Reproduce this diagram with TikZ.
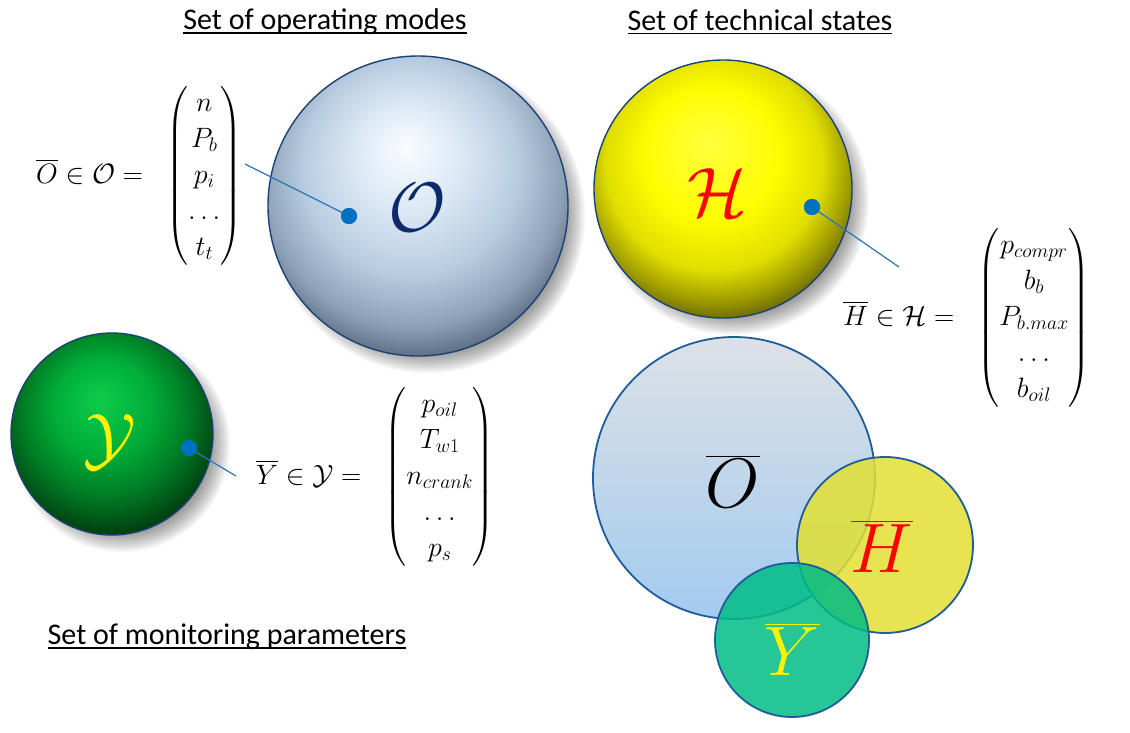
\RequirePackage{fix-cm}
\documentclass[tikz,border=0pt]{standalone}
\usepackage{amsmath}
\usepackage{fontspec}
\newfontfamily\calib{Carlito}
\usetikzlibrary{calc}
\definecolor{dotblue}{HTML}{0070C0}
\definecolor{leadblue}{HTML}{2E75B6}
\definecolor{rimblue}{HTML}{1B4272}
\definecolor{vennrim}{HTML}{1F5C99}
\definecolor{navyO}{HTML}{0D2B6B}
\definecolor{venntop}{HTML}{DDE1E6}
\definecolor{vennbot}{HTML}{A3CBEF}
\definecolor{vennyel}{HTML}{E2E032}
\definecolor{venngrn}{HTML}{00BD85}
\pgfdeclareradialshading{sphO}{\pgfqpoint{-2bp}{10bp}}{rgb(0bp)=(0.98,0.99,1); rgb(9bp)=(0.86,0.91,0.96); rgb(18bp)=(0.72,0.80,0.88); rgb(25bp)=(0.55,0.63,0.72); rgb(31bp)=(0.30,0.36,0.44); rgb(36bp)=(0.12,0.15,0.2); rgb(50bp)=(0,0,0)}
\pgfdeclareradialshading{sphH}{\pgfqpoint{-3bp}{9bp}}{rgb(0bp)=(1,1,0.25); rgb(13bp)=(1,0.99,0); rgb(21bp)=(0.88,0.87,0); rgb(26bp)=(0.62,0.61,0); rgb(31bp)=(0.3,0.3,0); rgb(36bp)=(0.08,0.08,0); rgb(50bp)=(0,0,0)}
\pgfdeclareradialshading{sphY}{\pgfqpoint{-3bp}{9bp}}{rgb(0bp)=(0.05,0.8,0.3); rgb(12bp)=(0,0.68,0.22); rgb(20bp)=(0,0.5,0.15); rgb(26bp)=(0,0.33,0.09); rgb(31bp)=(0,0.16,0.04); rgb(36bp)=(0,0.05,0.01); rgb(50bp)=(0,0,0)}
\newcommand\ulbox[1]{\setbox0\hbox{#1}\rlap{\rule[-0.13em]{\wd0}{0.055em}}\box0}
\newcommand\softshadow[3]{\foreach \k in {0,...,11}{\fill[black,opacity=0.04] ($(#1)+(#3)$) circle[radius={(#2+7-1.8*\k)*1pt}];}}
\begin{document}
\begin{tikzpicture}[x=1pt,y=-1pt,
  head/.style={font=\calib\fontsize{30}{36}\selectfont, inner sep=0pt},
  frm/.style={font=\fontsize{28}{36}\selectfont, inner sep=0pt, anchor=west},
  big/.style={font=\fontsize{70}{80}\selectfont, inner sep=0pt},
  dot/.style={circle, fill=dotblue, inner sep=0pt, minimum size=16pt},
  lead/.style={draw=leadblue, line width=1.2pt},
  rim/.style={draw=rimblue, line width=1.4pt},
  vrim/.style={draw=vennrim, line width=1.8pt},
]
\useasboundingbox (0,0) rectangle (1130,732);
\fill[white] (0,0) rectangle (1130,732);

% headings
\node[head] (h1) at (325,22) {\ulbox{Set of operating modes}};
\node[head] (h2) at (760,22) {\ulbox{Set of technical states}};
\node[head] (h3) at (227,637) {\ulbox{Set of monitoring parameters}};

% sphere centres
\coordinate (cO) at (418,206);
\coordinate (cH) at (723,189);
\coordinate (cY) at (112,434);

% shadows
\softshadow{cO}{150}{10,10}
\softshadow{cH}{129}{10,10}
\softshadow{cY}{101}{10,10}

% spheres
\shade[shading=sphO] (cO) circle[radius=150pt];
\draw[rim] (cO) circle[radius=150pt];
\shade[shading=sphH] (cH) circle[radius=129pt];
\draw[rim] (cH) circle[radius=129pt];
\shade[shading=sphY] (cY) circle[radius=101pt];
\draw[rim] (cY) circle[radius=101pt];

\node[big, text=navyO] (lO) at (417,208) {$\mathcal{O}$};
\node[big, text=red] (lH) at (717,193) {$\mathcal{H}$};
\node[big, text=yellow] (lY) at (110,442) {$\mathcal{Y}$};

% formulas
\node[frm] (fO) at (36,176) {$\overline{O}\in\mathcal{O}=\;\;\begin{pmatrix} n\\ P_b\\ p_i\\ \ldots\\ t_t\end{pmatrix}$};
\node[frm] (fH) at (843,318) {$\overline{H}\in\mathcal{H}=\;\;\begin{pmatrix} p_{compr}\\ b_b\\ P_{b.max}\\ \ldots\\ b_{oil}\end{pmatrix}$};
\node[frm] (fY) at (256,477) {$\overline{Y}\in\mathcal{Y}=\;\;\begin{pmatrix} p_{oil}\\ T_{w1}\\ n_{crank}\\ \ldots\\ p_s\end{pmatrix}$};

% leaders
\node[dot] (dO) at (349,216) {};
\node[dot] (dH) at (812,207) {};
\node[dot] (dY) at (189,448) {};
\coordinate (eO) at (245,164);
\coordinate (eH) at (899,267);
\coordinate (eY) at (236,476);
\draw[lead] (eO) -- (dO.center);
\draw[lead] (eH) -- (dH.center);
\draw[lead] (eY) -- (dY.center);
\node[dot] at (dO) {};
\node[dot] at (dH) {};
\node[dot] at (dY) {};

% Venn
\coordinate (vO) at (734,478);
\coordinate (vH) at (885,545);
\coordinate (vY) at (792,640);
\shade[top color=venntop, bottom color=vennbot] (vO) circle[radius=141pt];
\draw[vrim] (vO) circle[radius=141pt];
\fill[vennyel, fill opacity=0.85] (vH) circle[radius=88pt];
\draw[vrim] (vH) circle[radius=88pt];
\fill[venngrn, fill opacity=0.85] (vY) circle[radius=77pt];
\draw[vrim] (vY) circle[radius=77pt];

\node[big] (tO) at (733,481) {$\overline{O}$};
\node[big, text=red] (tH) at (882,546) {$\overline{H}$};
\node[big, text=yellow] (tY) at (792,649) {$\overline{Y}$};
\end{tikzpicture}
\end{document}
